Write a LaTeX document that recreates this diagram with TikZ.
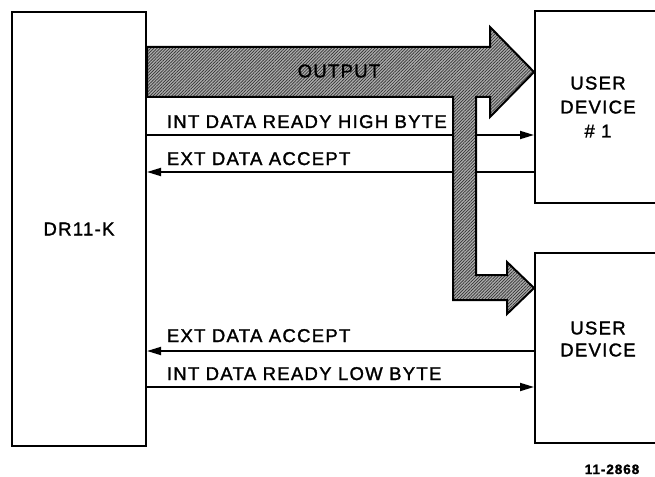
\documentclass[tikz,border=0pt]{standalone}
\usepackage{fontspec}
\setmainfont{Liberation Sans}[LetterSpace=7.0,FakeBold=1.5]
\usetikzlibrary{arrows.meta,patterns.meta,positioning}

\begin{document}
\begin{tikzpicture}[x=1pt,y=-1pt,
        box/.style={draw,line width=2pt,inner sep=0pt,align=center},
        lbl/.style={font=\fontsize{18.5}{24}\bfseries\mdseries\selectfont,inner sep=0pt},
        sig/.style={line width=1.8pt,-{Triangle[length=14pt,width=8pt]}},
        bus/.style={line width=2pt,line join=miter,preaction={fill=gray!65},
            pattern={Lines[angle=45,distance=2.2pt,line width=0.7pt]},pattern color=black!80}]

    \clip (0,0) rectangle (655,476);

    \node[box,lbl,minimum width=134pt,minimum height=434pt] (dr) at (79,229) {DR11-K};
    \node[box,lbl,minimum width=126pt,minimum height=192pt] (dev1) at (598,107) {USER\\DEVICE\\\#\ 1};
    \node[box,minimum width=126pt,minimum height=190pt] (dev2) at (598,348) {};
    \node[lbl,align=center] (dev2txt) at ([yshift=9pt]dev2.center) {USER\\[-2pt]DEVICE};

    \draw[sig] (dr.east |- 0,135) -- node[lbl,pos=0,anchor=base west,xshift=19pt,yshift=7pt] {INT DATA READY HIGH BYTE} (dev1.west |- 0,135);
    \draw[sig] (dev1.west |- 0,172) -- node[lbl,pos=1,anchor=base west,xshift=19pt,yshift=7pt] {EXT DATA ACCEPT} (dr.east |- 0,172);
    \draw[sig] (dev2.west |- 0,351) -- node[lbl,pos=1,anchor=base west,xshift=19pt,yshift=9pt] {EXT DATA ACCEPT} (dr.east |- 0,351);
    \draw[sig] (dr.east |- 0,387) -- node[lbl,pos=0,anchor=base west,xshift=19pt,yshift=7pt] {INT DATA READY LOW BYTE} (dev2.west |- 0,387);

    \draw[bus] (dr.east |- 0,47) -- (490,47) -- (490,27) -- (dev1.west |- 0,72) -- (490,117) -- (490,97)
        -- (476,97) -- (476,275) -- (507,275) -- (507,262) -- (dev2.west |- 0,288) -- (507,314) -- (507,300)
        -- (453,300) -- (453,97) -- (dr.east |- 0,97) -- cycle;
    \node[lbl] (bus) at (339,71) {OUTPUT};

    \node[font=\fontsize{13.5}{16}\bfseries,inner sep=0pt,anchor=base] (fig) at (612,474) {11-2868};
\end{tikzpicture}
\end{document}
